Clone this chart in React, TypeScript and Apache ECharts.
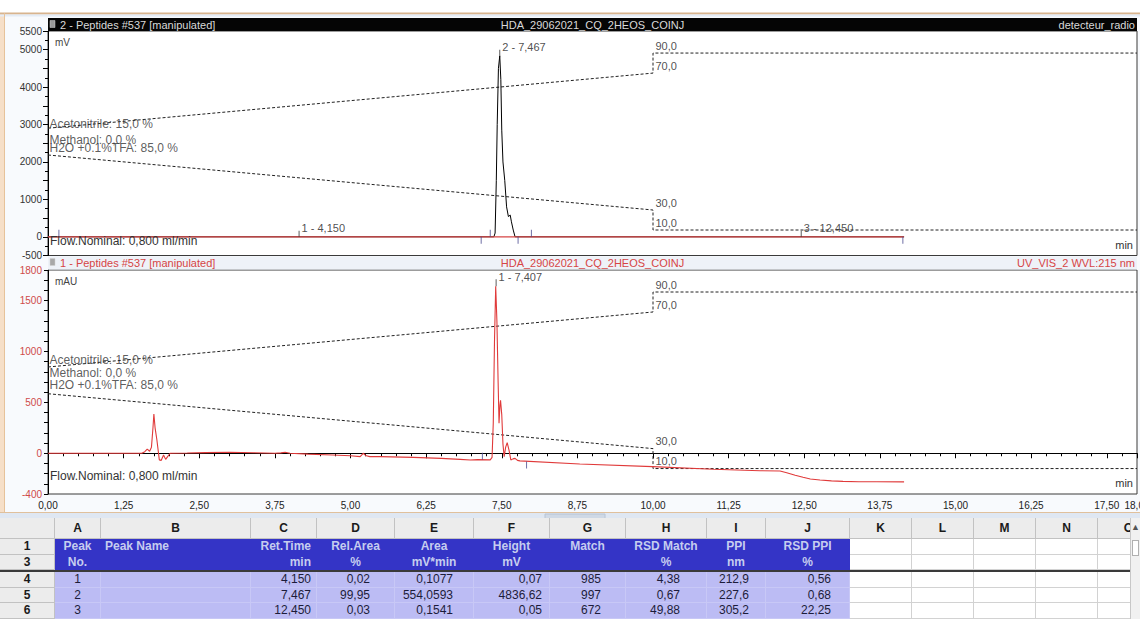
import React, { useEffect, useRef } from "react";
import * as echarts from "echarts";

// ---------------- axes ----------------
const TIME_MIN = 0;
const TIME_MAX = 18;
const TIME_STEP = 1.25;
const RADIO_MIN = -500;
const RADIO_MAX = 5500;
const RADIO_STEP = 500;
const RADIO_LABELED = [-500, 0, 1000, 2000, 3000, 4000, 5000, 5500];
const UV_MIN = -400;
const UV_MAX = 1800;
const UV_STEP = 100;
const UV_LABELED = [-400, 0, 500, 1000, 1500, 1800];
// gradient overlay scales (percent)
const ACN_RANGE = [-112, 112];
const H2O_RANGE = [-15.5, 209];

// ---------------- detecteur_radio (mV) ----------------
const radioTime = [0, 7.37, 7.39, 7.41, 7.425, 7.445, 7.467, 7.485, 7.5, 7.52, 7.55, 7.58, 7.61, 7.64, 7.66, 7.69, 7.72, 14.15];
const radioSignal = [0, 0, 100, 1500, 3000, 4500, 4837, 4200, 2850, 2000, 1500, 800, 540, 580, 400, 180, 0, 0];
const radioBaseTime = [0, 14.15];
const radioBaseSignal = [0, 0];

// ---------------- UV_VIS_2 (mAU) ----------------
const uvTime = [
  0, 1.55, 1.6, 1.64, 1.68, 1.71, 1.735, 1.75, 1.77, 1.8, 1.84, 1.87, 1.91, 1.945, 1.98, 2.02, 2.3, 2.6, 3.0,
  3.4, 3.75, 3.85, 3.92, 4.0, 4.3, 4.7, 5.0, 5.16, 5.21, 5.26, 5.32, 5.49, 6.04, 6.5, 6.81, 6.98, 7.1, 7.31,
  7.34, 7.36, 7.38, 7.4, 7.42, 7.44, 7.455, 7.47, 7.48, 7.5, 7.52, 7.54, 7.565, 7.59, 7.62, 7.65, 7.685, 7.72,
  7.76, 7.8, 8.79, 9.99, 11.0, 11.77, 12.1, 12.21, 12.35, 12.48, 12.6, 12.76, 12.95, 13.14, 13.4, 13.7, 14.15,
];
const uvSignal = [
  0, 0, 15, 40, 20, 60, 250, 385, 250, 130, -65, -70, -17, -60, -30, 0, 2, 6, 10,
  5, 0, 4, 10, 0, -8, -17, -25, -33, 0, -25, -33, -33, -40, -50, -60, -66, -62, -65,
  -40, 300, 1100, 1640, 1300, 700, 295, 470, 520, 380, 90, -33, 60, 104, 30, -65, -55, -50,
  -70, -75, -105, -131, -157, -171, -174, -192, -215, -236, -252, -263, -271, -276, -279, -280, -281,
];

// ---------------- gradient program ----------------
const gradientTime = [0, 10, 10, 18];
const acetonitrilePct = [15, 70, 90, 90];
const waterPct = [85, 30, 10, 10];

// ---------------- peak labels ----------------
const radioPeakNames = ["1 - 4,150", "2 - 7,467", "3 - 12,450"];
const radioPeakTimes = [4.15, 7.467, 12.45];
const radioPeakValues = [0, 4837, 0];
const uvPeakNames = ["1 - 7,407"];
const uvPeakTimes = [7.407];
const uvPeakValues = [1640];

// integration delimiters
const radioDelimUpTimes = [0.18, 7.31, 7.99];
const radioDelimDownTimes = [7.16, 7.77, 14.13];
const uvDelimUpTimes = [7.18];
const uvDelimUpValues = [-64];
const uvDelimDownTimes = [7.91];
const uvDelimDownValues = [-80];

// ---------------- report table ----------------
const colLetters = ["A", "B", "C", "D", "E", "F", "G", "H", "I", "J", "K", "L", "M", "N", "O"];
const rowNumbers = ["1", "3", "4", "5", "6"];
const headerTop = ["Peak", "Peak Name", "Ret.Time", "Rel.Area", "Area", "Height", "Match", "RSD Match", "PPI", "RSD PPI"];
const headerUnit = ["No.", "", "min", "%", "mV*min", "mV", "", "%", "nm", "%"];
const peakNo = ["1", "2", "3"];
const peakName = ["", "", ""];
const retTime = ["4,150", "7,467", "12,450"];
const relArea = ["0,02", "99,95", "0,03"];
const areaVals = ["0,1077", "554,0593", "0,1541"];
const heightVals = ["0,07", "4836,62", "0,05"];
const matchVals = ["985", "997", "672"];
const rsdMatch = ["4,38", "0,67", "49,88"];
const ppiVals = ["212,9", "227,6", "305,2"];
const rsdPpi = ["0,56", "0,68", "22,25"];

// ---------------- layout ----------------
const FONT = '"Liberation Sans", Arial, Helvetica, sans-serif';
const PLOT_LEFT = 48;
const PLOT_WIDTH = 1089;
const TOP_GRID = { top: 31, height: 224.5 };
const BOT_GRID = { top: 270, height: 224 };
const RED = "#d64545";
const AXIS_RED = "#cf4a4a";
const MARK = "#4a4a8e";

const zip = (xs: number[], ys: number[]) => xs.map((x, i) => [x, ys[i]]);
const fmtTime = (v: number) => v.toFixed(2).replace(".", ",");

function tickSeries(xi: number, yi: number, data: number[][], up: boolean, color: string, len = 7) {
  return {
    type: "scatter",
    xAxisIndex: xi,
    yAxisIndex: yi,
    data,
    symbol: "rect",
    symbolSize: [1, len],
    symbolOffset: [0, up ? -len / 2 : len / 2],
    itemStyle: { color },
    silent: true,
    z: 5,
  };
}

function labelSeries(xi: number, yi: number, data: any[], pos: number[], color: string, size: number) {
  return {
    type: "scatter",
    xAxisIndex: xi,
    yAxisIndex: yi,
    data,
    symbolSize: 1,
    itemStyle: { color: "rgba(0,0,0,0)" },
    silent: true,
    z: 6,
    label: {
      show: true,
      position: pos,
      formatter: (p: any) => p.value[2],
      color,
      fontSize: size,
      fontFamily: FONT,
      lineHeight: size + 1,
    },
  };
}

function gradientLine(xi: number, yi: number, pct: number[]) {
  return {
    type: "line",
    xAxisIndex: xi,
    yAxisIndex: yi,
    data: zip(gradientTime, pct),
    symbol: "none",
    silent: true,
    lineStyle: { color: "#222", width: 1, type: [3, 2] },
    z: 3,
  };
}

function timeAxis(gridIndex: number, labels: boolean) {
  return {
    type: "value",
    gridIndex,
    min: TIME_MIN,
    max: TIME_MAX,
    interval: TIME_STEP,
    axisLine: { show: labels, lineStyle: { color: "#000", width: 1 } },
    axisTick: { show: labels, length: 5, lineStyle: { color: "#000" } },
    minorTick: { show: labels, splitNumber: 5, length: 3, lineStyle: { color: "#000" } },
    splitLine: { show: false },
    axisLabel: {
      show: labels,
      formatter: fmtTime,
      color: "#222",
      fontSize: 10,
      fontFamily: FONT,
      margin: 6,
    },
  };
}

function hiddenAxis(gridIndex: number, range: number[]) {
  return { type: "value", gridIndex, min: range[0], max: range[1], show: false, splitLine: { show: false } };
}

function buildOption() {
  const topBottom = TOP_GRID.top + TOP_GRID.height;
  const botBottom = BOT_GRID.top + BOT_GRID.height;
  const text = (x: number, y: number, t: string, fill: string, size: number, align = "left", z = 20) => ({
    type: "text",
    x,
    y,
    z,
    silent: true,
    style: { text: t, fill, font: `${size}px ${FONT}`, align, verticalAlign: "middle" },
  });

  return {
    animation: false,
    backgroundColor: "#f8fafd",
    textStyle: { fontFamily: FONT },
    grid: [
      { left: PLOT_LEFT, top: TOP_GRID.top, width: PLOT_WIDTH, height: TOP_GRID.height, show: true, backgroundColor: "#fff", borderColor: "#3a3a3a", borderWidth: 1, containLabel: false, outerBoundsMode: "none" },
      { left: PLOT_LEFT, top: BOT_GRID.top, width: PLOT_WIDTH, height: BOT_GRID.height, show: true, backgroundColor: "#fff", borderColor: "#3a3a3a", borderWidth: 1, containLabel: false, outerBoundsMode: "none" },
    ],
    xAxis: [timeAxis(0, false), timeAxis(1, true)],
    yAxis: [
      {
        type: "value",
        gridIndex: 0,
        min: RADIO_MIN,
        max: RADIO_MAX,
        interval: RADIO_STEP,
        axisLine: { show: true, lineStyle: { color: "#000" } },
        axisTick: { show: true, length: 5, lineStyle: { color: "#000" } },
        minorTick: { show: true, splitNumber: 2, length: 3, lineStyle: { color: "#000" } },
        splitLine: { show: false },
        axisLabel: {
          formatter: (v: number) => (RADIO_LABELED.includes(v) ? String(v) : ""),
          color: "#333",
          fontSize: 10,
          fontFamily: FONT,
          margin: 6,
        },
      },
      hiddenAxis(0, ACN_RANGE),
      hiddenAxis(0, H2O_RANGE),
      {
        type: "value",
        gridIndex: 1,
        min: UV_MIN,
        max: UV_MAX,
        interval: UV_STEP,
        axisLine: { show: true, lineStyle: { color: "#000" } },
        axisTick: { show: true, length: 4, lineStyle: { color: "#000" } },
        splitLine: { show: false },
        axisLabel: {
          formatter: (v: number) => (UV_LABELED.includes(v) ? String(v) : ""),
          color: AXIS_RED,
          fontSize: 10,
          fontFamily: FONT,
          margin: 6,
        },
      },
      hiddenAxis(1, ACN_RANGE),
      hiddenAxis(1, H2O_RANGE),
    ],
    series: [
      // top panel
      gradientLine(0, 1, acetonitrilePct),
      gradientLine(0, 2, waterPct),
      {
        type: "line",
        xAxisIndex: 0,
        yAxisIndex: 0,
        data: zip(radioTime, radioSignal),
        symbol: "none",
        silent: true,
        lineStyle: { color: "#000", width: 1 },
        z: 4,
      },
      {
        type: "line",
        xAxisIndex: 0,
        yAxisIndex: 0,
        data: zip(radioBaseTime, radioBaseSignal),
        symbol: "none",
        silent: true,
        lineStyle: { color: RED, width: 1.2 },
        z: 4,
      },
      tickSeries(0, 0, radioDelimUpTimes.map((t) => [t, 0]), true, MARK),
      tickSeries(0, 0, radioDelimDownTimes.map((t) => [t, 0]), false, MARK),
      tickSeries(0, 0, zip(radioPeakTimes, radioPeakValues), true, "#333", 6),
      labelSeries(0, 0, radioPeakTimes.map((t, i) => [t, radioPeakValues[i], radioPeakNames[i]]), [3, -14], "#222", 11),
      labelSeries(0, 1, [[gradientTime[1], acetonitrilePct[1], "70,0"], [gradientTime[2], acetonitrilePct[2], "90,0"]], [3, -13], "#222", 11),
      labelSeries(0, 2, [[gradientTime[1], waterPct[1], "30,0"], [gradientTime[2], waterPct[2], "10,0"]], [3, -13], "#222", 11),
      labelSeries(0, 1, [[gradientTime[0], acetonitrilePct[0], "Acetonitrile: 15,0 %"]], [2, -10], "#333", 12),
      labelSeries(0, 2, [[gradientTime[0], waterPct[0], "H2O +0.1%TFA: 85,0 %"]], [2, -13.5], "#333", 12),
      labelSeries(0, 2, [[gradientTime[0], waterPct[0], "Methanol: 0,0 %"]], [2, -21], "#333", 12),
      // bottom panel
      gradientLine(1, 4, acetonitrilePct),
      gradientLine(1, 5, waterPct),
      {
        type: "line",
        xAxisIndex: 1,
        yAxisIndex: 3,
        data: zip(uvTime, uvSignal),
        symbol: "none",
        silent: true,
        lineStyle: { color: "#e03a3a", width: 1.1 },
        z: 4,
      },
      tickSeries(1, 3, zip(uvDelimUpTimes, uvDelimUpValues), true, MARK),
      tickSeries(1, 3, zip(uvDelimDownTimes, uvDelimDownValues), false, MARK),
      tickSeries(1, 3, zip(uvPeakTimes, uvPeakValues), true, "#333", 7),
      labelSeries(1, 3, uvPeakTimes.map((t, i) => [t, uvPeakValues[i], uvPeakNames[i]]), [3, -15], "#222", 11),
      labelSeries(1, 4, [[gradientTime[1], acetonitrilePct[1], "70,0"], [gradientTime[2], acetonitrilePct[2], "90,0"]], [3, -13], "#222", 11),
      labelSeries(1, 5, [[gradientTime[1], waterPct[1], "30,0"], [gradientTime[2], waterPct[2], "10,0"]], [3, -13], "#222", 11),
      labelSeries(1, 4, [[gradientTime[0], acetonitrilePct[0], "Acetonitrile: 15,0 %"]], [2, -13.5], "#333", 12),
      labelSeries(1, 5, [[gradientTime[0], waterPct[0], "H2O +0.1%TFA: 85,0 %"]], [2, -15], "#333", 12),
      labelSeries(1, 5, [[gradientTime[0], waterPct[0], "Methanol: 0,0 %"]], [2, -26.5], "#333", 12),
    ],
    graphic: [
      // window frame
      { type: "rect", z: -10, silent: true, shape: { x: 0, y: 0, width: 1140, height: 13 }, style: { fill: "#ffffff" } },
      { type: "rect", z: -10, silent: true, shape: { x: 0, y: 13, width: 4, height: 500 }, style: { fill: "#f6dfc8" } },
      { type: "line", z: -5, silent: true, shape: { x1: 0, y1: 13.5, x2: 1140, y2: 13.5 }, style: { stroke: "#d8b48e", lineWidth: 2 } },
      { type: "line", z: -5, silent: true, shape: { x1: 0, y1: 15.5, x2: 1140, y2: 15.5 }, style: { stroke: "#e4ecf6", lineWidth: 2 } },
      { type: "line", z: -5, silent: true, shape: { x1: 4.5, y1: 13, x2: 4.5, y2: 513 }, style: { stroke: "#e6c29a", lineWidth: 1 } },
      { type: "line", z: -5, silent: true, shape: { x1: 0, y1: 512.5, x2: 1140, y2: 512.5 }, style: { stroke: "#e0c09c", lineWidth: 1 } },
      { type: "rect", z: -5, silent: true, shape: { x: 0, y: 513, width: 1140, height: 8 }, style: { fill: "#dfe7f2" } },
      { type: "rect", z: -4, silent: true, shape: { x: 545, y: 514, width: 60, height: 5 }, style: { fill: "#cfd9e6", stroke: "#b8c4d4", lineWidth: 1 } },
      // top panel header (black)
      { type: "rect", z: 15, silent: true, shape: { x: PLOT_LEFT, y: 18, width: PLOT_WIDTH, height: 13 }, style: { fill: "#050505" } },
      { type: "rect", z: 16, silent: true, shape: { x: 50, y: 20.5, width: 5, height: 7 }, style: { fill: "#9a9a9a", stroke: "#d0d0d0", lineWidth: 0.5 } },
      text(60, 24.5, "2 - Peptides #537 [manipulated]", "#d9d9d9", 11, "left", 16),
      text(PLOT_LEFT + PLOT_WIDTH / 2, 24.5, "HDA_29062021_CQ_2HEOS_COINJ", "#d9d9d9", 11, "center", 16),
      text(PLOT_LEFT + PLOT_WIDTH - 2, 24.5, "detecteur_radio", "#d9d9d9", 11, "right", 16),
      // bottom panel header (light)
      { type: "rect", z: 15, silent: true, shape: { x: PLOT_LEFT, y: topBottom + 1, width: PLOT_WIDTH, height: BOT_GRID.top - topBottom - 1.5 }, style: { fill: "#eef2f8" } },
      { type: "rect", z: 16, silent: true, shape: { x: 50, y: 258.5, width: 5, height: 7 }, style: { fill: "#a8a8a8", stroke: "#d0d0d0", lineWidth: 0.5 } },
      text(60, 262.5, "1 - Peptides #537 [manipulated]", RED, 11, "left", 16),
      text(PLOT_LEFT + PLOT_WIDTH / 2, 262.5, "HDA_29062021_CQ_2HEOS_COINJ", RED, 11, "center", 16),
      text(PLOT_LEFT + PLOT_WIDTH - 2, 262.5, "UV_VIS_2 WVL:215 nm", RED, 11, "right", 16),
      // units & flow annotations
      text(55, TOP_GRID.top + 11, "mV", "#444", 10),
      text(55, BOT_GRID.top + 11, "mAU", "#444", 10),
      text(PLOT_LEFT + PLOT_WIDTH - 4, topBottom - 11, "min", "#333", 11, "right"),
      text(PLOT_LEFT + PLOT_WIDTH - 4, botBottom - 11, "min", "#333", 11, "right"),
      text(50, topBottom - 15, "Flow.Nominal: 0,800 ml/min", "#333", 12),
      text(50, botBottom - 18, "Flow.Nominal: 0,800 ml/min", "#333", 12),
    ],
  };
}

// ---------------- table ----------------
const COL_EDGES = [0, 55, 101, 251, 317, 395, 474, 550, 626, 707, 766, 850, 912, 974, 1036, 1098, 1160];
const VALUE_PAD = [0, 0, 5, 24, 20, 7, 24, 26, 16, 18];
const ROW_LETTER = { top: 518, h: 21 };
const ROW_TOPS = [539, 555, 572, 588, 603];
const ROW_H = [16, 15, 16, 15, 16];

function Cell(props: { left: number; top: number; width: number; height: number; bg: string; border: string; children?: any; align?: string; pad?: number; color?: string; bold?: boolean }) {
  const { left, top, width, height, bg, border, children, align = "center", pad = 3, color = "#222", bold = false } = props;
  return (
    <div
      style={{
        position: "absolute",
        left,
        top,
        width,
        height,
        boxSizing: "border-box",
        background: bg,
        borderRight: `1px solid ${border}`,
        borderBottom: `1px solid ${border}`,
        color,
        fontWeight: bold ? 700 : 400,
        fontSize: 12,
        lineHeight: `${height - 1}px`,
        textAlign: align as any,
        paddingLeft: align === "left" ? pad : 0,
        paddingRight: align === "right" ? pad : 0,
        whiteSpace: "nowrap",
        overflow: "hidden",
      }}
    >
      {children}
    </div>
  );
}

function ReportTable() {
  const cells: any[] = [];
  const w = (i: number) => COL_EDGES[i + 1] - COL_EDGES[i];
  cells.push(<Cell key="corner" left={0} top={ROW_LETTER.top} width={w(0)} height={ROW_LETTER.h} bg="#ececec" border="#c2c2c2" />);
  colLetters.forEach((l, i) => {
    cells.push(
      <Cell key={"L" + i} left={COL_EDGES[i + 1]} top={ROW_LETTER.top} width={w(i + 1)} height={ROW_LETTER.h} bg="#ececec" border="#c2c2c2" bold color="#1a1a1a">
        {l}
      </Cell>
    );
  });
  const data = [peakNo, peakName, retTime, relArea, areaVals, heightVals, matchVals, rsdMatch, ppiVals, rsdPpi];
  rowNumbers.forEach((rn, r) => {
    const top = ROW_TOPS[r];
    const h = ROW_H[r];
    cells.push(
      <Cell key={"R" + r} left={0} top={top} width={w(0)} height={h} bg="#ececec" border="#c2c2c2" bold color="#1a1a1a">
        {rn}
      </Cell>
    );
    for (let c = 0; c < 15; c++) {
      const left = COL_EDGES[c + 1];
      const width = w(c + 1);
      if (c >= 10) {
        cells.push(<Cell key={`c${r}-${c}`} left={left} top={top} width={width} height={h} bg="#ffffff" border="#d2d2d2" />);
        continue;
      }
      if (r < 2) {
        const txt = r === 0 ? headerTop[c] : headerUnit[c];
        const align = c === 1 ? "left" : c === 2 ? "right" : "center";
        cells.push(
          <Cell key={`c${r}-${c}`} left={left} top={top} width={width} height={h} bg="#3434c6" border="#3434c6" align={align} pad={c === 2 ? 5 : 4} color="#c6cdef" bold>
            {txt}
          </Cell>
        );
      } else {
        const v = data[c][r - 2];
        const align = c === 0 ? "center" : "right";
        cells.push(
          <Cell key={`c${r}-${c}`} left={left} top={top} width={width} height={h} bg="#bcbcf4" border="#c8c8f6" align={align} pad={VALUE_PAD[c]} color="#1c1c3a">
            {v}
          </Cell>
        );
      }
    }
  });
  return (
    <div style={{ position: "absolute", left: 0, top: 0, width: 1140, height: 619, fontFamily: FONT }}>
      {cells}
      <div style={{ position: "absolute", left: 0, top: 570, width: 1130, height: 2, background: "#3a3a3a" }} />
      <div style={{ position: "absolute", left: 1130, top: 518, width: 10, height: 101, background: "#f1f1f1", borderLeft: "1px solid #c8c8c8", boxSizing: "border-box" }} />
      <div style={{ position: "absolute", left: 1132, top: 540, width: 7, height: 16, background: "#ffffff", border: "1px solid #b0b0b0", boxSizing: "border-box" }} />
      <div style={{ position: "absolute", left: 1131, top: 520, width: 9, fontSize: 9, lineHeight: "14px", color: "#555", textAlign: "center" }}>▲</div>
    </div>
  );
}

export default function App() {
  const ref = useRef<HTMLDivElement>(null);
  useEffect(() => {
    const chart = echarts.init(ref.current as HTMLDivElement, null, { renderer: "svg" });
    chart.setOption(buildOption() as any);
    return () => chart.dispose();
  }, []);
  return (
    <div style={{ position: "fixed", left: 0, top: 0, width: 1140, height: 619, background: "#e3eaf4", overflow: "hidden" }}>
      <div ref={ref} style={{ position: "absolute", left: 0, top: 0, width: 1140, height: 521 }} />
      <ReportTable />
    </div>
  );
}
